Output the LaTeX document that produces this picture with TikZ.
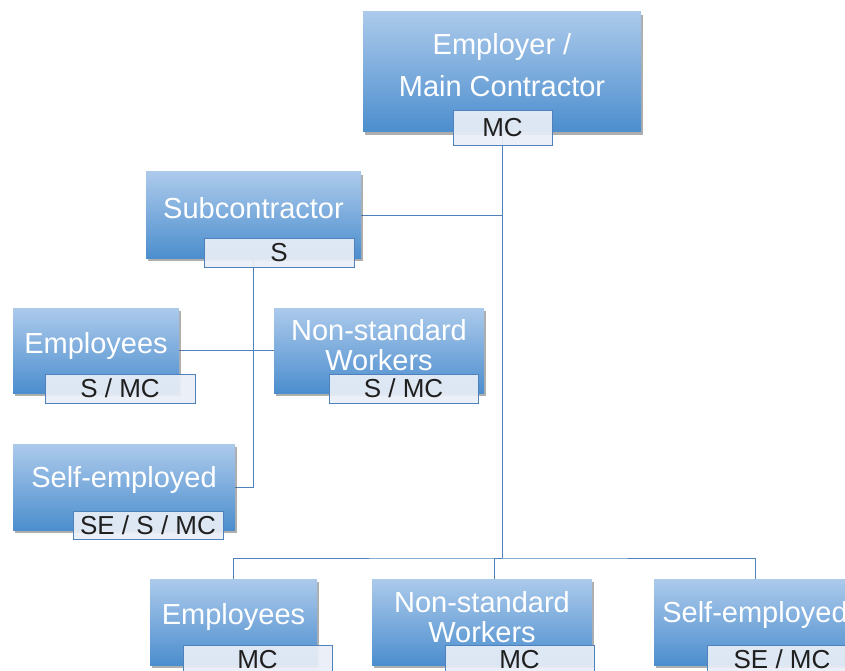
\documentclass[tikz,border=0pt]{standalone}
\usepackage{fontspec}
\setmainfont{Liberation Sans}
\usetikzlibrary{shadows, backgrounds}

\definecolor{boxtop}{RGB}{172,202,235}
\definecolor{boxbot}{RGB}{76,142,206}
\definecolor{linkblue}{RGB}{79,129,189}
\definecolor{tagfill}{RGB}{233,239,247}

\tikzset{
  unit/.style={rectangle, top color=boxtop, bottom color=boxbot, draw=none, inner sep=0pt,
    drop shadow={shadow xshift=2pt, shadow yshift=-3pt, fill=black!70, opacity=.45}},
  unittext/.style={text=white, align=center, font=\fontsize{29}{30}\selectfont},
  tag/.style={rectangle, draw=linkblue, line width=0.8pt, fill=tagfill, fill opacity=.92,
    text opacity=1, text=black!88, inner sep=0pt, font=\fontsize{26}{28}\selectfont},
  link/.style={draw=linkblue, line width=1pt}
}

\begin{document}
\begin{tikzpicture}[x=1pt, y=-1pt]
  \useasboundingbox (0,0) rectangle (845,671);

  % Main contractor
  \node[unit, minimum width=278pt, minimum height=120pt] (emp) at (502,72) {};
  \node[unittext, font=\fontsize{29}{42}\selectfont] (emp-t) at ([yshift=7pt]emp.center) {Employer /\\Main Contractor};
  \node[tag, minimum width=99pt, minimum height=35pt] (emp-tag) at (502.5,127.5) {MC};

  % Subcontractor
  \node[unit, minimum width=215pt, minimum height=86pt] (sub) at (253.5,215) {};
  \node[unittext] (sub-t) at ([yshift=7pt]sub.center) {Subcontractor};
  \node[tag, minimum width=150pt, minimum height=29pt] (sub-tag) at (279,252.5) {S};

  % Workers of the subcontractor
  \node[unit, minimum width=166pt, minimum height=85pt] (empl) at (96,350.5) {};
  \node[unittext] (empl-t) at ([yshift=5pt]empl.center) {Employees};
  \node[tag, minimum width=150pt, minimum height=29pt] (empl-tag) at (120,388.5) {S / MC};

  \node[unit, minimum width=210pt, minimum height=85pt] (nsl) at (379,350.5) {};
  \node[unittext] (nsl-t) at ([yshift=5pt]nsl.center) {Non-standard\\Workers};
  \node[tag, minimum width=149pt, minimum height=29pt] (nsl-tag) at (403.5,388.5) {S / MC};

  \node[unit, minimum width=222pt, minimum height=86pt] (sel) at (124,487) {};
  \node[unittext] (sel-t) at ([yshift=7pt]sel.center) {Self-employed};
  \node[tag, minimum width=150pt, minimum height=28pt] (sel-tag) at (148,525) {SE / S / MC};

  % Workers of the main contractor
  \node[unit, minimum width=167pt, minimum height=86pt] (empb) at (233.5,622) {};
  \node[unittext] (empb-t) at ([yshift=5pt]empb.center) {Employees};
  \node[tag, minimum width=149pt, minimum height=29pt] (empb-tag) at (257.5,659.5) {MC};

  \node[unit, minimum width=220pt, minimum height=86pt] (nsb) at (482,622) {};
  \node[unittext] (nsb-t) at ([yshift=5pt]nsb.center) {Non-standard\\Workers};
  \node[tag, minimum width=149pt, minimum height=29pt] (nsb-tag) at (519.5,659.5) {MC};

  \node[unit, minimum width=202pt, minimum height=86pt] (seb) at (755,622) {};
  \node[unittext] (seb-t) at ([yshift=7pt]seb.center) {Self-employed};
  \node[tag, minimum width=150pt, minimum height=29pt] (seb-tag) at (782,659.5) {SE / MC};

  % Connectors
  \coordinate (joint) at (502,558);
  \begin{scope}[on background layer]
    \draw[link] (emp.south) -- (joint);
    \draw[link] (sub.east) -- (sub.east -| joint);
    \draw[link] (sub.south) |- (sel.east);
    \draw[link] (empl.east) -- (nsl.west);
    \draw[link] (empb.north) |- (joint) -| (seb.north);
    \draw[link] ([xshift=12pt]nsb.north) |- (joint);
  \end{scope}
\end{tikzpicture}
\end{document}
